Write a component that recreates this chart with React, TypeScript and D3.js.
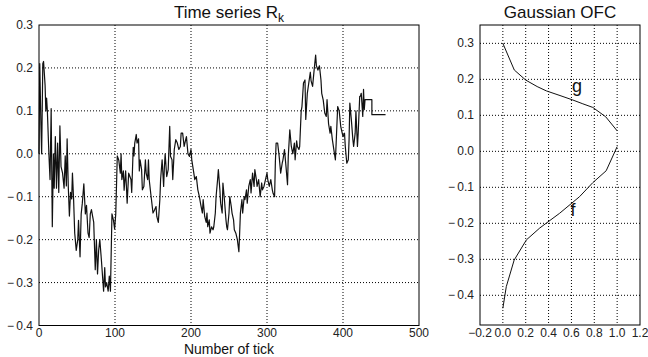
import React from "react";
import * as d3 from "d3";

const tickIdx = [0,1,2.5,3.5,5,6,8,9,10,11,13,14.5,16,17.5,19,20,21.5,23,24.5,26,27.5,29,31,33,34.5,36,37,38.5,40,41.5,43,44,45.5,47,49,51,52,54,55.5,57,59,61,62.5,64.5,66,67.5,69,70.5,72,74,75.5,77,78.5,80,82,84,85,86.5,87.5,89,91,92.5,94,96,98,99.5,101,103,105,107,108,109,111,112,114,115,116,118,119,121,122,124,125,126,128,129,131,132,133,135,136,138,140,141,143,144,145,147,148,150,152,154,155,157,159,160,162,164,165,166,168,170,172,173,175,176,178,180,182,184,186,187,189,191,193,194,196,198,200,201,203,205,207,209,211,213,215,216,218,220,221,222,224,225,227,229,230,232,233,235,236,238,239,241,242,244,246,247,248,250,251,253,254,256,257,259,261,263,264,265,267,268,270,271,273,274,276,278,279,281,283,284,286,287,289,291,293,294,296,298,300,301,303,305,307,308,310,311,312,314,316,318,320,321,323,325,327,328,330,332,334,336,337,339,340,342,343,345,346,348,350,351,353,355,357,358,360,362,364,365,367,369,371,372,374,376,378,379,381,383,384,386,388,390,391,393,395,397,398,400,402,403,405,407,408,409,411,413,414,416,417,419,420,422,423,424,426,427,428,429,431,438,438,456];
const rk = [0.0,0.21,0.07,0.0,0.21,0.215,0.16,0.1,0.13,0.1,0.0,-0.06,0.105,-0.17,0.0,-0.08,0.04,-0.08,0.025,-0.09,0.065,-0.03,-0.045,-0.08,-0.005,-0.075,0.035,-0.075,-0.145,-0.09,-0.105,-0.045,-0.105,-0.185,-0.225,-0.2,-0.155,-0.24,-0.14,-0.115,-0.07,-0.14,-0.12,-0.185,-0.195,-0.14,-0.13,-0.145,-0.16,-0.27,-0.2,-0.28,-0.225,-0.2,-0.245,-0.295,-0.32,-0.265,-0.31,-0.3,-0.32,-0.285,-0.32,-0.14,-0.155,-0.175,-0.14,-0.005,-0.015,-0.045,0.0,-0.06,-0.04,-0.085,-0.04,-0.075,-0.115,-0.045,-0.05,-0.06,-0.09,0.015,-0.005,0.025,0.045,0.025,0.035,-0.04,-0.014,-0.037,-0.084,-0.076,-0.014,-0.045,-0.06,-0.014,-0.06,-0.092,-0.107,-0.138,-0.131,-0.123,-0.146,-0.16,-0.107,-0.06,-0.014,-0.076,-0.03,0.0,-0.053,-0.037,0.064,-0.006,-0.014,-0.06,0.01,0.033,0.025,0.01,0.017,0.048,0.048,0.017,0.033,0.04,0.0,-0.006,0.01,-0.014,-0.037,-0.06,-0.053,-0.084,-0.1,-0.12,-0.138,-0.107,-0.146,-0.16,-0.138,-0.17,-0.154,-0.185,-0.17,-0.177,-0.17,-0.138,-0.1,-0.06,-0.037,-0.084,-0.115,-0.138,-0.068,-0.107,-0.154,-0.17,-0.177,-0.138,-0.1,-0.123,-0.138,-0.154,-0.177,-0.185,-0.2,-0.228,-0.185,-0.138,-0.107,-0.138,-0.1,-0.107,-0.084,-0.115,-0.076,-0.06,-0.091,-0.045,-0.076,-0.037,-0.06,-0.076,-0.06,-0.1,-0.068,-0.084,-0.076,-0.06,-0.045,-0.06,-0.076,-0.06,-0.084,-0.092,-0.1,-0.02,0.025,0.025,-0.006,-0.045,-0.022,-0.014,0.01,-0.03,-0.072,-0.006,0.056,0.017,0.0,0.025,-0.014,0.03,0.017,0.01,0.017,0.1,0.11,0.165,0.172,0.08,0.14,0.165,0.19,0.17,0.157,0.195,0.23,0.205,0.195,0.205,0.172,0.141,0.125,0.095,0.087,0.126,0.07,0.048,0.064,0.033,0.009,-0.014,0.025,0.11,0.1,0.064,0.056,0.04,0.048,0.017,-0.022,-0.014,0.033,0.118,0.079,0.033,0.017,0.048,0.1,0.017,0.048,0.134,0.134,0.141,0.087,0.15,0.103,0.126,0.126,0.126,0.091,0.091];

const gX = [0, 0.1, 0.2, 0.3, 0.38, 0.5, 0.613, 0.7, 0.787, 0.9, 1.0];
const gY = [0.3, 0.226, 0.198, 0.18, 0.168, 0.155, 0.1425, 0.132, 0.122, 0.096, 0.057];
const fX = [1.0, 0.904, 0.787, 0.671, 0.497, 0.323, 0.206, 0.099, 0.03, 0.0];
const fY = [0.013, -0.054, -0.087, -0.126, -0.172, -0.213, -0.246, -0.302, -0.376, -0.436];

const leftXTicks = [0, 100, 200, 300, 400, 500];
const leftYTicks = [0.3, 0.2, 0.1, 0.0, -0.1, -0.2, -0.3, -0.4];
const rightXTicks = [-0.2, 0.0, 0.2, 0.4, 0.6, 0.8, 1.0, 1.2];
const rightYTicks = [0.3, 0.2, 0.1, 0.0, -0.1, -0.2, -0.3, -0.4];

const FONT = "'Liberation Sans', Arial, sans-serif";

function fmt(v: number) {
  const s = Math.abs(v).toFixed(1);
  return v < -1e-9 ? "\u2212\u2009" + s : s;
}

export default function App() {
  const W = 648, H = 357;
  const lx = d3.scaleLinear().domain([0, 500]).range([39, 419]);
  const ly = d3.scaleLinear().domain([-0.4, 0.3]).range([325.5, 25]);
  const rx = d3.scaleLinear().domain([-0.2, 1.2]).range([480, 640]);
  const ry = d3.scaleLinear().domain([-0.4825, 0.351]).range([325, 25]);

  const series = tickIdx.map((t, i) => [t, rk[i]] as [number, number]);
  const lineL = d3.line<[number, number]>().x(d => lx(d[0])).y(d => ly(d[1]));
  const gPts = gX.map((x, i) => [x, gY[i]] as [number, number]);
  const fPts = fX.map((x, i) => [x, fY[i]] as [number, number]);
  const lineR = d3.line<[number, number]>().x(d => rx(d[0])).y(d => ry(d[1]));

  const dash = "1,2";
  return (
    <svg width={W} height={H} style={{ position: "absolute", left: 0, top: 0, background: "#fff" }}>
      <rect x={0} y={0} width={W} height={H} fill="#fff" />
      {/* Left plot */}
      <g fontFamily={FONT}>
        {leftXTicks.slice(1, -1).map(t => (
          <line key={"lxg" + t} x1={lx(t)} x2={lx(t)} y1={ly(0.3)} y2={ly(-0.4)} stroke="#000" strokeWidth={1} strokeDasharray={dash} />
        ))}
        {leftYTicks.slice(1, -1).map(t => (
          <line key={"lyg" + t} x1={lx(0)} x2={lx(500)} y1={ly(t)} y2={ly(t)} stroke="#000" strokeWidth={1} strokeDasharray={dash} />
        ))}
        <path d={lineL(series) || ""} fill="none" stroke="#111" strokeWidth={1.2} strokeLinejoin="round" />
        <rect x={lx(0)} y={ly(0.3)} width={lx(500) - lx(0)} height={ly(-0.4) - ly(0.3)} fill="none" stroke="#000" strokeWidth={1} />
        {leftXTicks.map(t => (
          <text key={"lxt" + t} x={lx(t)} y={337} fontSize={12} textAnchor="middle" fill="#222">{t}</text>
        ))}
        {leftYTicks.map(t => (
          <text key={"lyt" + t} x={33} y={ly(t) + 4} fontSize={12} textAnchor="end" fill="#222">{fmt(t)}</text>
        ))}
        <text x={229} y={18} fontSize={17} textAnchor="middle" fill="#111">
          Time series R<tspan fontSize={12} dy={4}>k</tspan>
        </text>
        <text x={229} y={354} fontSize={14} textAnchor="middle" fill="#111">Number of tick</text>
      </g>
      {/* Right plot */}
      <g fontFamily={FONT}>
        {rightXTicks.slice(1, -1).map(t => (
          <line key={"rxg" + t} x1={rx(t)} x2={rx(t)} y1={25} y2={325} stroke="#000" strokeWidth={1} strokeDasharray={dash} />
        ))}
        {rightYTicks.map(t => (
          <line key={"ryg" + t} x1={480} x2={640} y1={ry(t)} y2={ry(t)} stroke="#000" strokeWidth={1} strokeDasharray={dash} />
        ))}
        <path d={lineR(gPts) || ""} fill="none" stroke="#111" strokeWidth={1} />
        <path d={lineR(fPts) || ""} fill="none" stroke="#111" strokeWidth={1} />
        <rect x={480} y={25} width={160} height={300} fill="none" stroke="#000" strokeWidth={1} />
        {rightXTicks.map(t => (
          <text key={"rxt" + t} x={rx(t)} y={337} fontSize={12} textAnchor="middle" fill="#222">{fmt(t).replace("\u2009", "")}</text>
        ))}
        {rightYTicks.map(t => (
          <text key={"ryt" + t} x={474} y={ry(t) + 4} fontSize={12} textAnchor="end" fill="#222">{fmt(t)}</text>
        ))}
        <text x={560} y={18} fontSize={17} textAnchor="middle" fill="#111">Gaussian OFC</text>
        <text x={577} y={92} fontSize={18} textAnchor="middle" fill="#111">g</text>
        <text x={573} y={216} fontSize={18} textAnchor="middle" fill="#111">f</text>
      </g>
    </svg>
  );
}
